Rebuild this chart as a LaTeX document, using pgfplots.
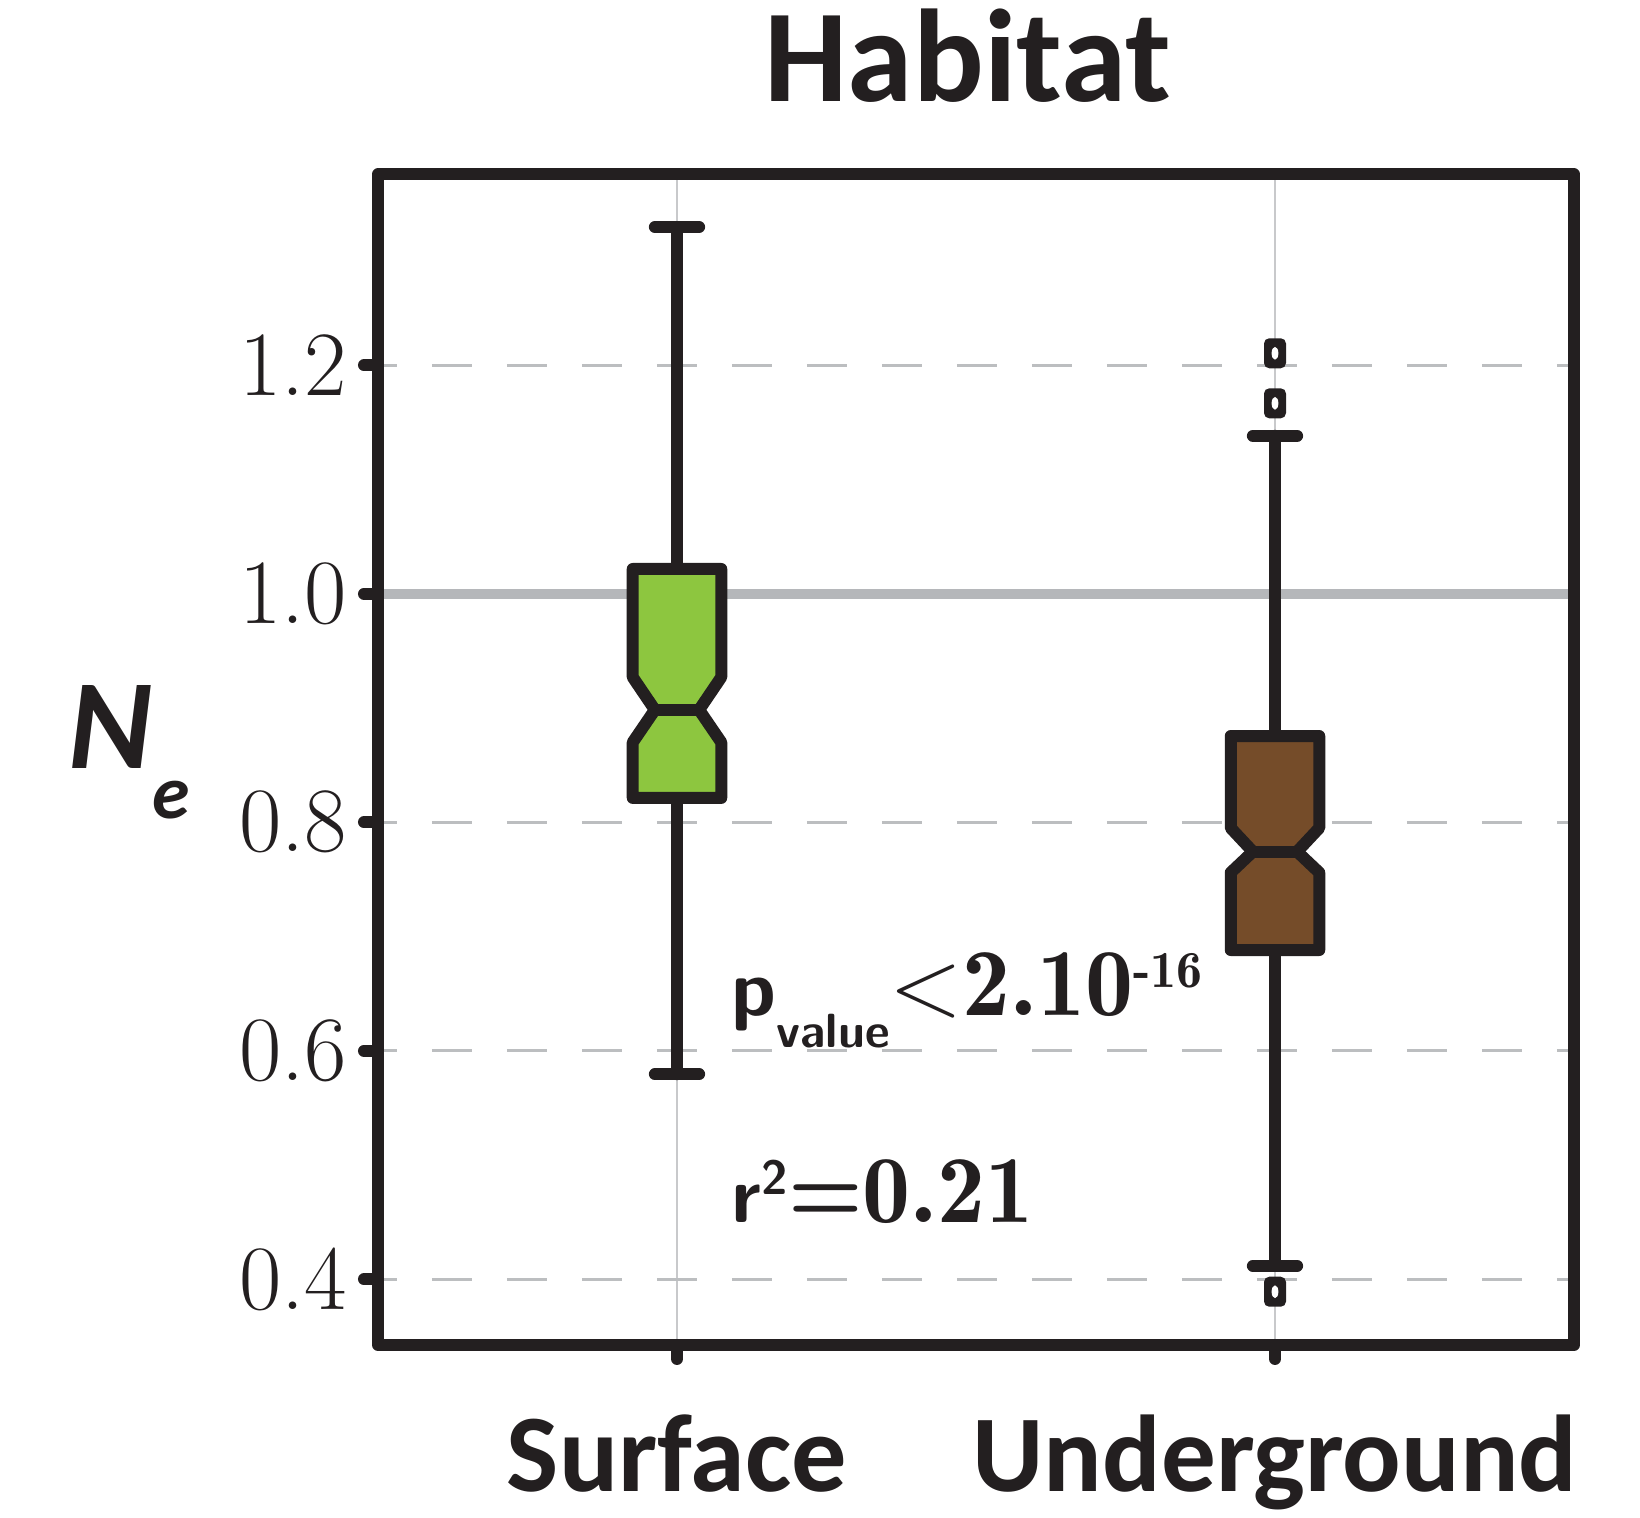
\documentclass[border=0pt]{standalone}
\usepackage{fontspec}
\usepackage{pgfplots}
\pgfplotsset{compat=1.18}
\newfontfamily\carlito{Carlito}
% semibold roman for the statistics
\newfontfamily\lmdemi{lmromandemi10-regular.otf}

\definecolor{ink}{HTML}{231F20}
\definecolor{gridgray}{HTML}{BCBEC0}
\definecolor{vgray}{HTML}{C8C9CB}
\definecolor{refgray}{HTML}{B5B7BA}
\definecolor{surfgreen}{HTML}{8DC63F}
\definecolor{undbrown}{HTML}{754C29}

% half width of a box, in x units
\def\bw{0.074}

% outlier: thick rounded ring
\pgfdeclareplotmark{ring}{%
  \pgfsetcornersarced{\pgfpoint{1.3pt}{1.3pt}}%
  \pgfpathrectangle{\pgfpoint{-2.75pt}{-3.75pt}}{\pgfpoint{5.5pt}{7.5pt}}%
  \pgfsetfillcolor{ink}\pgfusepath{fill}%
  \pgfsetcornersarced{\pgfpointorigin}%
  \pgfpathellipse{\pgfpointorigin}{\pgfpoint{0.85pt}{0pt}}{\pgfpoint{0pt}{1.6pt}}%
  \pgfsetfillcolor{white}\pgfusepath{fill}%
}

\pgfplotsset{
  whisker/.style={line width=3pt, draw=ink, line cap=round, mark=none},
  boxline/.style={line width=3pt, draw=ink, line join=round, mark=none},
}

% notched box: #1 position, #2 lower whisker, #3 lower quartile, #4 lower notch,
% #5 median, #6 upper notch, #7 upper quartile, #8 upper whisker, #9 fill colour
\newcommand{\notchbox}[9]{%
  \pgfmathsetmacro\xa{#1-\bw}\pgfmathsetmacro\xb{#1+\bw}%
  \pgfmathsetmacro\na{#1-\bw/2}\pgfmathsetmacro\nb{#1+\bw/2}%
  \edef\tmp{%
    \noexpand\addplot[whisker] coordinates {(#1,#7) (#1,#8)};
    \noexpand\addplot[whisker] coordinates {(#1,#2) (#1,#3)};
    \noexpand\addplot[whisker] coordinates {(\na,#8) (\nb,#8)};
    \noexpand\addplot[whisker] coordinates {(\na,#2) (\nb,#2)};
    \noexpand\addplot[boxline, fill=#9] coordinates {(\xa,#3) (\xa,#4) (\na,#5) (\xa,#6) (\xa,#7) (\xb,#7) (\xb,#6) (\nb,#5) (\xb,#4) (\xb,#3)} -- cycle;
    \noexpand\addplot[boxline] coordinates {(\na,#5) (\nb,#5)};
  }\tmp
}

\begin{document}
\begin{tikzpicture}
\begin{axis}[
  set layers, clip mode=individual,
  scale only axis, width=299pt, height=292.625pt,
  xmin=0.5, xmax=2.5, ymin=0.3425, ymax=1.367,
  xtick={1,2}, xticklabels={},
  ytick={0.4,0.6,0.8,1.2}, extra y ticks={1.0},
  /pgf/number format/assume math mode=true,
  yticklabel style={/pgf/number format/fixed, /pgf/number format/fixed zerofill,
    /pgf/number format/precision=1, font=\fontsize{23}{23}\selectfont,
    text=ink, anchor=east, inner sep=0pt, xshift=-4pt},
  tick align=outside, tick pos=left, major tick length=3.5pt,
  tick style={line width=3pt, draw=ink, line cap=round},
  axis line style={line width=3pt, draw=ink, line join=round},
  xmajorgrids, ymajorgrids,
  every axis x grid/.append style={line width=0.6pt, draw=vgray},
  every axis y grid/.append style={line width=0.75pt, draw=gridgray,
    dash pattern=on 10pt off 8.75pt, dash phase=5.3pt},
]
% reference level at Ne = 1
\addplot[on layer=axis grid, line width=2.4pt, draw=refgray, mark=none] coordinates {(0.5,1.0) (2.5,1.0)};

\notchbox{1}{0.5795}{0.8213}{0.8700}{0.8984}{0.9270}{1.0217}{1.3210}{surfgreen}
\notchbox{2}{0.4118}{0.6882}{0.7560}{0.7743}{0.7950}{0.8755}{1.1383}{undbrown}
\addplot[only marks, mark=ring] coordinates {(2,1.2105) (2,1.1667) (2,0.3891)};

\node[anchor=base, inner sep=0pt, text=ink, font=\carlito\bfseries\fontsize{33}{33}\selectfont]
  at ([xshift=-2.1pt,yshift=18.2pt]rel axis cs:0.5,1) {Habitat};
\node[anchor=base, inner sep=0pt, text=ink, font=\carlito\bfseries\fontsize{27.6}{27.6}\selectfont]
  at ([yshift=-36.75pt]axis cs:1,0.3425) {Surface};
\node[anchor=base, inner sep=0pt, text=ink, font=\carlito\bfseries\fontsize{27.3}{27.3}\selectfont]
  at ([yshift=-36.75pt]axis cs:2,0.3425) {Underground};
\node[anchor=base west, inner sep=0pt, text=ink]
  at ([xshift=-77.5pt]axis cs:0.5,0.8475)
  {\carlito\bfseries\itshape\fontsize{32}{32}\selectfont N\raisebox{-12.5pt}{\fontsize{19}{19}\selectfont e}};
\node[anchor=base west, inner sep=0pt, text=ink] at (axis cs:1.0904,0.6313)
  {{\sffamily\bfseries\fontsize{20}{20}\selectfont p}\raisebox{-8pt}{\sffamily\bfseries\fontsize{12}{12}\selectfont value}{\fontsize{24}{24}\selectfont <\lmdemi 2.10}\raisebox{7pt}{\lmdemi\fontsize{13}{13}\selectfont -16}};
\node[anchor=base west, inner sep=0pt, text=ink] at (axis cs:1.0904,0.4493)
  {{\sffamily\bfseries\fontsize{20}{20}\selectfont r}\raisebox{7pt}{\sffamily\bfseries\fontsize{12}{12}\selectfont 2}{\lmdemi\fontsize{24}{24}\selectfont =0.21}};
\end{axis}
\pgfresetboundingbox
\path[use as bounding box] ([xshift=-94.5pt,yshift=-43.25pt]current axis.south west)
  rectangle ([xshift=16.5pt,yshift=43.625pt]current axis.north east);
\end{tikzpicture}
\end{document}
